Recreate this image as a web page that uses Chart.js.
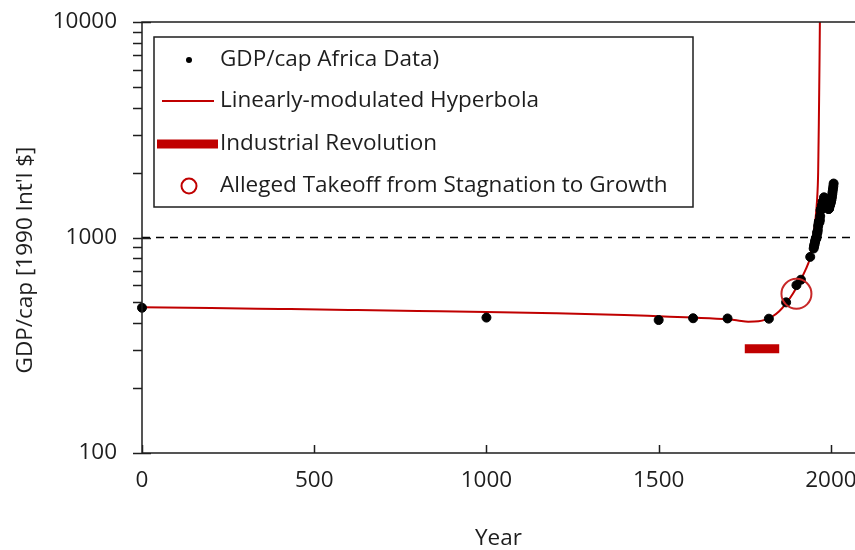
<!DOCTYPE html>
<html>
<head>
<meta charset="utf-8">
<script src="https://cdn.jsdelivr.net/npm/chart.js@4.4.0/dist/chart.umd.min.js"></script>
<style>
html, body { margin:0; padding:0; background:#fff; }
</style>
</head>
<body>
<canvas id="canvas_1" width="855" height="550"></canvas>
<script>

// GDP/cap Africa data points
var dataYears = [0, 1000, 1500, 1600, 1700, 1820, 1870, 1900, 1913, 1940,
	1950, 1951, 1952, 1953, 1954, 1955, 1956, 1957, 1958, 1959,
	1960, 1961, 1962, 1963, 1964, 1965, 1966, 1967, 1968, 1969,
	1970, 1971, 1972, 1973, 1974, 1975, 1976, 1977, 1978, 1979,
	1980, 1981, 1982, 1983, 1984, 1985, 1986, 1987, 1988, 1989,
	1990, 1991, 1992, 1993, 1994, 1995, 1996, 1997, 1998, 1999,
	2000, 2001, 2002, 2003, 2004, 2005, 2006, 2007, 2008];
var dataGdp = [472, 425, 414, 422, 421, 420, 500, 601, 637, 813,
	889, 908, 922, 937, 958, 966, 988, 996, 992, 1015,
	1055, 1053, 1082, 1128, 1157, 1184, 1192, 1180, 1208, 1257,
	1335, 1346, 1359, 1365, 1409, 1409, 1463, 1470, 1459, 1478,
	1536, 1513, 1494, 1460, 1445, 1450, 1441, 1434, 1448, 1442,
	1425, 1398, 1372, 1356, 1356, 1365, 1398, 1409, 1427, 1440,
	1463, 1489, 1513, 1546, 1587, 1632, 1678, 1726, 1780];

// linearly-modulated hyperbola
var fitYears = [0, 200, 400, 600, 800, 1000, 1200, 1400, 1500, 1600, 1700, 1730, 1760, 1790, 1810, 1830, 1850, 1870, 1890, 1910, 1925, 1940, 1948, 1955, 1960, 1962, 1963, 1964, 1965, 1966, 1967, 1968, 1969];
var fitGdp   = [475, 471, 466, 461, 456, 451, 445, 437, 431, 425, 417, 412, 407, 409, 416, 430, 455, 495, 550, 628, 700, 815, 1000, 1200, 1500, 1750, 2000, 2600, 3400, 4700, 6600, 9800, 15000];

var industrialYears = [1750, 1850];
var industrialGdp = [305, 305];

var takeoffYear = 1900;
var takeoffGdp = 548;

var refLevel = 1000;

var xTicks = [0, 500, 1000, 1500, 2000];
var yTicks = [100, 200, 300, 400, 500, 600, 700, 800, 900, 1000, 2000, 3000, 4000, 5000, 6000, 7000, 8000, 9000, 10000];
var yLabels = [100, 1000, 10000];

var legendItems = ['GDP/cap Africa Data)', 'Linearly-modulated Hyperbola', 'Industrial Revolution', 'Alleged Takeoff from Stagnation to Growth'];

var red = 'rgb(192, 0, 0)';
var ink = '#1e1e1e';
var fontName = "'Open Sans', sans-serif";
var fontSize = 22.5;

function pairs(xs, ys) {
	var out = [];
	for (var i = 0; i < xs.length; i++) { out.push({x: xs[i], y: ys[i]}); }
	return out;
}

var axesPlugin = {
	id: 'axesPlugin',
	afterDatasetsDraw: function(chart) {
		var ctx = chart.ctx, a = chart.chartArea;
		var xs = chart.scales.x, ys = chart.scales.y;
		ctx.save();
		ctx.strokeStyle = ink;
		ctx.lineWidth = 1.5;
		ctx.beginPath();
		ctx.moveTo(a.right, a.top); ctx.lineTo(a.left, a.top);
		ctx.lineTo(a.left, a.bottom); ctx.lineTo(a.right, a.bottom);
		yTicks.forEach(function(v) {
			var py = Math.round(ys.getPixelForValue(v)) + 0.5;
			var major = yLabels.indexOf(v) >= 0;
			ctx.moveTo(a.left - 9, py);
			ctx.lineTo(major ? a.left + 9 : a.left, py);
		});
		xTicks.forEach(function(v) {
			var px = Math.round(xs.getPixelForValue(v)) + 0.5;
			ctx.moveTo(px, a.bottom);
			ctx.lineTo(px, a.bottom - 8);
		});
		ctx.stroke();

		// y title
		ctx.fillStyle = ink;
		ctx.font = fontSize + 'px ' + fontName;
		ctx.textAlign = 'center';
		ctx.textBaseline = 'middle';
		ctx.translate(26, 260);
		ctx.rotate(-Math.PI / 2);
		ctx.fillText("GDP/cap [1990 Int'l $]", 0, 0);
		ctx.restore();
	}
};

var legendPlugin = {
	id: 'boxLegend',
	afterDraw: function(chart) {
		var ctx = chart.ctx;
		var bx = 154, by = 37, bw = 539, bh = 170;
		ctx.save();
		ctx.fillStyle = '#fff';
		ctx.fillRect(bx, by, bw, bh);
		ctx.strokeStyle = ink;
		ctx.lineWidth = 1.5;
		ctx.strokeRect(bx, by, bw, bh);

		var rows = [60, 101, 144, 186];
		// dot
		ctx.fillStyle = '#000';
		ctx.beginPath(); ctx.arc(189, rows[0], 3, 0, Math.PI * 2); ctx.fill();
		// line
		ctx.strokeStyle = red; ctx.lineWidth = 2;
		ctx.beginPath(); ctx.moveTo(162, rows[1]); ctx.lineTo(214, rows[1]); ctx.stroke();
		// thick bar
		ctx.fillStyle = red;
		ctx.fillRect(157, rows[2] - 4.5, 61, 9);
		// circle
		ctx.strokeStyle = red; ctx.lineWidth = 2;
		ctx.beginPath(); ctx.arc(189, rows[3], 7.5, 0, Math.PI * 2); ctx.stroke();

		ctx.fillStyle = ink;
		ctx.font = fontSize + 'px ' + fontName;
		ctx.textAlign = 'left';
		ctx.textBaseline = 'middle';
		for (var i = 0; i < legendItems.length; i++) {
			ctx.fillText(legendItems[i], 220, rows[i]);
		}
		ctx.restore();
	}
};

Chart.defaults.font.family = fontName;
Chart.defaults.font.size = fontSize;
Chart.defaults.color = ink;

var chart = new Chart(document.getElementById('canvas_1'), {
	type: 'scatter',
	data: {
		datasets: [
			{
				label: 'ref',
				type: 'line',
				data: [{x: 0, y: refLevel}, {x: 2070, y: refLevel}],
				borderColor: '#000',
				borderWidth: 1.5,
				borderDash: [8, 6],
				pointRadius: 0,
				order: 5
			},
			{
				label: legendItems[2],
				type: 'line',
				data: pairs(industrialYears, industrialGdp),
				borderColor: red,
				borderWidth: 9,
				borderCapStyle: 'butt',
				pointRadius: 0,
				order: 4
			},
			{
				label: legendItems[1],
				type: 'line',
				data: pairs(fitYears, fitGdp),
				borderColor: red,
				borderWidth: 2,
				cubicInterpolationMode: 'monotone',
				pointRadius: 0,
				order: 3
			},
			{
				label: legendItems[0],
				data: pairs(dataYears, dataGdp),
				backgroundColor: '#000',
				borderColor: '#000',
				pointRadius: 4.5,
				clip: false,
				order: 2
			},
			{
				label: legendItems[3],
				data: [{x: takeoffYear, y: takeoffGdp}],
				backgroundColor: 'rgba(0,0,0,0)',
				borderColor: 'rgb(200, 40, 40)',
				borderWidth: 2,
				pointRadius: 15,
				order: 1
			}
		]
	},
	options: {
		responsive: false,
		animation: false,
		events: [],
		layout: { autoPadding: false, padding: { top: 22, right: 0, left: 0, bottom: 0 } },
		plugins: {
			legend: { display: false },
			tooltip: { enabled: false }
		},
		scales: {
			x: {
				type: 'linear',
				min: 0,
				max: 2070,
				grid: { display: false, drawTicks: false },
				border: { display: false },
				afterBuildTicks: function(scale) {
					scale.ticks = xTicks.map(function(v) { return {value: v}; });
				},
				afterFit: function(scale) {
					scale.height = 97;
					scale.paddingLeft = 0;
					scale.paddingRight = 0;
				},
				ticks: {
					padding: 14,
					maxRotation: 0,
					autoSkip: false,
					callback: function(v) { return String(v); }
				},
				title: { display: true, text: 'Year', padding: { top: 0, bottom: -2 } }
			},
			y: {
				type: 'logarithmic',
				min: 100,
				max: 10000,
				grid: { display: false, drawTicks: false },
				border: { display: false },
				afterBuildTicks: function(scale) {
					scale.ticks = yTicks.map(function(v) { return {value: v}; });
				},
				afterFit: function(scale) {
					scale.width = 142;
					scale.paddingTop = 0;
					scale.paddingBottom = 0;
				},
				ticks: {
					padding: 25,
					autoSkip: false,
					callback: function(v) { return yLabels.indexOf(v) >= 0 ? String(v) : ''; }
				}
			}
		}
	},
	plugins: [axesPlugin, legendPlugin]
});
</script>
</body>
</html>
